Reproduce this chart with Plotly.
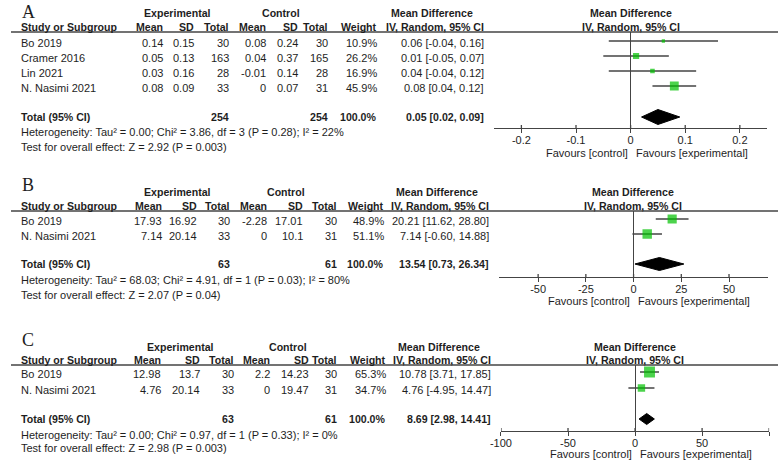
import math
import plotly.graph_objects as go

W, H = 778, 462

# ---------------- Data: Panel A ----------------
studies_A = ["Bo 2019", "Cramer 2016", "Lin 2021", "N. Nasimi 2021"]
exp_mean_A = [0.14, 0.05, 0.03, 0.08]
exp_sd_A = [0.15, 0.13, 0.16, 0.09]
exp_n_A = [30, 163, 28, 33]
ctl_mean_A = [0.08, 0.04, -0.01, 0]
ctl_sd_A = [0.24, 0.37, 0.14, 0.07]
ctl_n_A = [30, 165, 28, 31]
weight_A = [10.9, 26.2, 16.9, 45.9]
md_A = [0.06, 0.01, 0.04, 0.08]
lo_A = [-0.04, -0.05, -0.04, 0.04]
hi_A = [0.16, 0.07, 0.12, 0.12]
total_A = [0.05, 0.02, 0.09]
total_n_A = [254, 254]
total_w_A = 100.0
het_A = "Heterogeneity: Tau² = 0.00; Chi² = 3.86, df = 3 (P = 0.28); I² = 22%"
test_A = "Test for overall effect: Z = 2.92 (P = 0.003)"
tickvals_A = [-0.2, -0.1, 0, 0.1, 0.2]
ticktext_A = ["-0.2", "-0.1", "0", "0.1", "0.2"]
range_A = [-0.25, 0.25]

# ---------------- Data: Panel B ----------------
studies_B = ["Bo 2019", "N. Nasimi 2021"]
exp_mean_B = [17.93, 7.14]
exp_sd_B = [16.92, 20.14]
exp_n_B = [30, 33]
ctl_mean_B = [-2.28, 0]
ctl_sd_B = [17.01, 10.1]
ctl_n_B = [30, 31]
weight_B = [48.9, 51.1]
md_B = [20.21, 7.14]
lo_B = [11.62, -0.60]
hi_B = [28.80, 14.88]
total_B = [13.54, 0.73, 26.34]
total_n_B = [63, 61]
total_w_B = 100.0
het_B = "Heterogeneity: Tau² = 68.03; Chi² = 4.91, df = 1 (P = 0.03); I² = 80%"
test_B = "Test for overall effect: Z = 2.07 (P = 0.04)"
tickvals_B = [-50, -25, 0, 25, 50]
ticktext_B = ["-50", "-25", "0", "25", "50"]
range_B = [-70.5, 70.5]

# ---------------- Data: Panel C ----------------
studies_C = ["Bo 2019", "N. Nasimi 2021"]
exp_mean_C = [12.98, 4.76]
exp_sd_C = [13.7, 20.14]
exp_n_C = [30, 33]
ctl_mean_C = [2.2, 0]
ctl_sd_C = [14.23, 19.47]
ctl_n_C = [30, 31]
weight_C = [65.3, 34.7]
md_C = [10.78, 4.76]
lo_C = [3.71, -4.95]
hi_C = [17.85, 14.47]
total_C = [8.69, 2.98, 14.41]
total_n_C = [63, 61]
total_w_C = 100.0
het_C = "Heterogeneity: Tau² = 0.00; Chi² = 0.97, df = 1 (P = 0.33); I² = 0%"
test_C = "Test for overall effect: Z = 2.98 (P = 0.003)"
tickvals_C = [-100, -50, 0, 50, 100]
ticktext_C = ["-100", "-50", "0", "50", "100"]
range_C = [-100, 100]

# ---------------- Styling / layout ----------------
FONT = "Liberation Sans, Arial, sans-serif"
SERIF = "Liberation Serif, Times New Roman, serif"
TXT = "#1e1e1e"
LINE = "#444444"
GREEN = "#00c000"
BOLD_SIZE = 10.6

panels = [
    dict(label="A", studies=studies_A, em=exp_mean_A, es=exp_sd_A, en=exp_n_A,
         cm=ctl_mean_A, cs=ctl_sd_A, cn=ctl_n_A, w=weight_A, md=md_A, lo=lo_A, hi=hi_A,
         tot=total_A, totn=total_n_A, totw=total_w_A, het=het_A, test=test_A,
         tv=tickvals_A, tt=ticktext_A, rng=range_A,
         label_y=12, grp_y=13, hdr_y=27, line_y=32, rows_y=[43, 58, 73, 88], total_y=117,
         het_y=132, test_y=147, axis_y=128, fav_y=153,
         cols=[154, 186, 221, 259, 291, 322, 371], exp_c=169, ctl_c=274,
         ci_r=480, md_r_c=628.5, xdom=[490, 767], dh=7.5),
    dict(label="B", studies=studies_B, em=exp_mean_B, es=exp_sd_B, en=exp_n_B,
         cm=ctl_mean_B, cs=ctl_sd_B, cn=ctl_n_B, w=weight_B, md=md_B, lo=lo_B, hi=hi_B,
         tot=total_B, totn=total_n_B, totw=total_w_B, het=het_B, test=test_B,
         tv=tickvals_B, tt=ticktext_B, rng=range_B,
         label_y=185, grp_y=192, hdr_y=206, line_y=211, rows_y=[221, 236], total_y=264,
         het_y=280, test_y=295, axis_y=277, fav_y=301,
         cols=[153, 189, 222, 260, 296, 331, 378], exp_c=169, ctl_c=279,
         ci_r=485, md_r_c=631, xdom=[495, 768], dh=6.5),
    dict(label="C", studies=studies_C, em=exp_mean_C, es=exp_sd_C, en=exp_n_C,
         cm=ctl_mean_C, cs=ctl_sd_C, cn=ctl_n_C, w=weight_C, md=md_C, lo=lo_C, hi=hi_C,
         tot=total_C, totn=total_n_C, totw=total_w_C, het=het_C, test=test_C,
         tv=tickvals_C, tt=ticktext_C, rng=range_C,
         label_y=340, grp_y=347, hdr_y=360, line_y=365, rows_y=[374, 390], total_y=419,
         het_y=435, test_y=448, axis_y=431, fav_y=454,
         cols=[152, 192, 226, 263, 302, 331, 380], exp_c=172, ctl_c=281,
         ci_r=487, md_r_c=633, xdom=[497, 769], dh=5.5),
]

annotations = []
shapes = []


def px_x(x):
    return x / W


def px_y(y):
    return 1 - y / H


def text(x, y, s, anchor="left", bold=False, size=11, family=FONT):
    if bold:
        s = f"<b>{s}</b>"
        size = BOLD_SIZE
    annotations.append(dict(x=px_x(x), y=px_y(y), xref="paper", yref="paper", text=s,
                            showarrow=False, xanchor=anchor, yanchor="middle",
                            font=dict(family=family, size=size, color=TXT),
                            borderpad=0, borderwidth=0))


def g(v):
    return f"{v:g}"


fig = go.Figure()
layout_axes = {}

for i, p in enumerate(panels, start=1):
    sfx = "" if i == 1 else str(i)
    xa, ya = "x" + sfx, "y" + sfx

    # ---- left table text ----
    text(11, p["label_y"], p["label"], size=18, family=SERIF)
    text(p["exp_c"], p["grp_y"], "Experimental", anchor="center", bold=True)
    text(p["ctl_c"], p["grp_y"], "Control", anchor="center", bold=True)
    text(p["ci_r"] - 53, p["grp_y"], "Mean Difference", anchor="center", bold=True)
    text(p["md_r_c"], p["grp_y"], "Mean Difference", anchor="center", bold=True)

    text(10, p["hdr_y"], "Study or Subgroup", bold=True)
    for c, h in zip(p["cols"], ["Mean", "SD", "Total", "Mean", "SD", "Total", "Weight"]):
        text(c, p["hdr_y"], h, anchor="right", bold=True)
    text(p["ci_r"], p["hdr_y"], "IV, Random, 95% CI", anchor="right", bold=True)
    text(p["md_r_c"], p["hdr_y"], "IV, Random, 95% CI", anchor="center", bold=True)

    shapes.append(dict(type="line", xref="paper", yref="paper", x0=0, x1=1,
                       y0=px_y(p["line_y"]), y1=px_y(p["line_y"]),
                       line=dict(color=LINE, width=1.3)))

    for k, name in enumerate(p["studies"]):
        y = p["rows_y"][k]
        text(10, y, name)
        vals = [g(p["em"][k]), g(p["es"][k]), g(p["en"][k]),
                g(p["cm"][k]), g(p["cs"][k]), g(p["cn"][k]), f"{p['w'][k]:.1f}%"]
        for c, v in zip(p["cols"], vals):
            text(c, y, v, anchor="right")
        text(p["ci_r"], y, f"{p['md'][k]:.2f} [{p['lo'][k]:.2f}, {p['hi'][k]:.2f}]", anchor="right")

    ty = p["total_y"]
    text(10, ty, "Total (95% CI)", bold=True)
    text(p["cols"][2], ty, str(p["totn"][0]), anchor="right", bold=True)
    text(p["cols"][5], ty, str(p["totn"][1]), anchor="right", bold=True)
    text(p["cols"][6], ty, f"{p['totw']:.1f}%", anchor="right", bold=True)
    m, l, h = p["tot"]
    text(p["ci_r"], ty, f"{m:.2f} [{l:.2f}, {h:.2f}]", anchor="right", bold=True)
    text(10, p["het_y"], p["het"])
    text(10, p["test_y"], p["test"])

    # favours labels
    text(p["md_r_c"] - 3, p["fav_y"], "Favours [control]", anchor="right")
    text(p["md_r_c"] + 5, p["fav_y"], "Favours [experimental]", anchor="left")

    # ---- forest plot ----
    wx, wy = [], []
    for k in range(len(p["md"])):
        wx += [p["lo"][k], p["hi"][k], None]
        wy += [p["rows_y"][k] - 2, p["rows_y"][k] - 2, None]
    fig.add_trace(go.Scatter(x=wx, y=wy, mode="lines", line=dict(color=LINE, width=1.3),
                             xaxis=xa, yaxis=ya, hoverinfo="skip", showlegend=False))
    fig.add_trace(go.Scatter(x=p["md"], y=[r - 2 for r in p["rows_y"]], mode="markers",
                             marker=dict(symbol="square", color=GREEN, line=dict(width=0),
                                         size=[1.6 * math.sqrt(w) - 2 for w in p["w"]]),
                             xaxis=xa, yaxis=ya, hoverinfo="skip", showlegend=False))
    dh = p["dh"]
    fig.add_trace(go.Scatter(x=[l, m, h, m, l], y=[ty, ty - dh, ty, ty + dh, ty],
                             mode="lines", fill="toself", fillcolor="black",
                             line=dict(color="black", width=1),
                             xaxis=xa, yaxis=ya, hoverinfo="skip", showlegend=False))

    layout_axes["xaxis" + sfx] = dict(
        domain=[p["xdom"][0] / W, p["xdom"][1] / W], range=p["rng"], anchor=ya,
        tickmode="array", tickvals=p["tv"], ticktext=p["tt"],
        ticks="outside", ticklen=4, tickwidth=1.3, tickcolor=LINE,
        ticklabelstandoff=-2,
        showline=True, linecolor=LINE, linewidth=1.3, showgrid=False,
        zeroline=True, zerolinecolor=LINE, zerolinewidth=1.3,
        tickfont=dict(family=FONT, size=11, color=TXT), fixedrange=True)
    layout_axes["yaxis" + sfx] = dict(
        domain=[1 - p["axis_y"] / H, 1 - p["line_y"] / H],
        range=[p["axis_y"], p["line_y"]], anchor=xa, visible=False, fixedrange=True)

    for tv in p["tv"]:
        shapes.append(dict(type="line", xref=xa, yref="paper", x0=tv, x1=tv,
                           y0=px_y(p["axis_y"]), y1=px_y(p["axis_y"] - 3),
                           line=dict(color=LINE, width=1.3)))

fig.update_layout(
    width=W, height=H, margin=dict(l=0, r=0, t=0, b=0),
    paper_bgcolor="white", plot_bgcolor="white",
    annotations=annotations, shapes=shapes, showlegend=False,
    **layout_axes)

fig.write_html("out.html",
               config={"displayModeBar": False},
               post_script="document.body.style.margin='0';document.body.style.overflow='hidden';")
